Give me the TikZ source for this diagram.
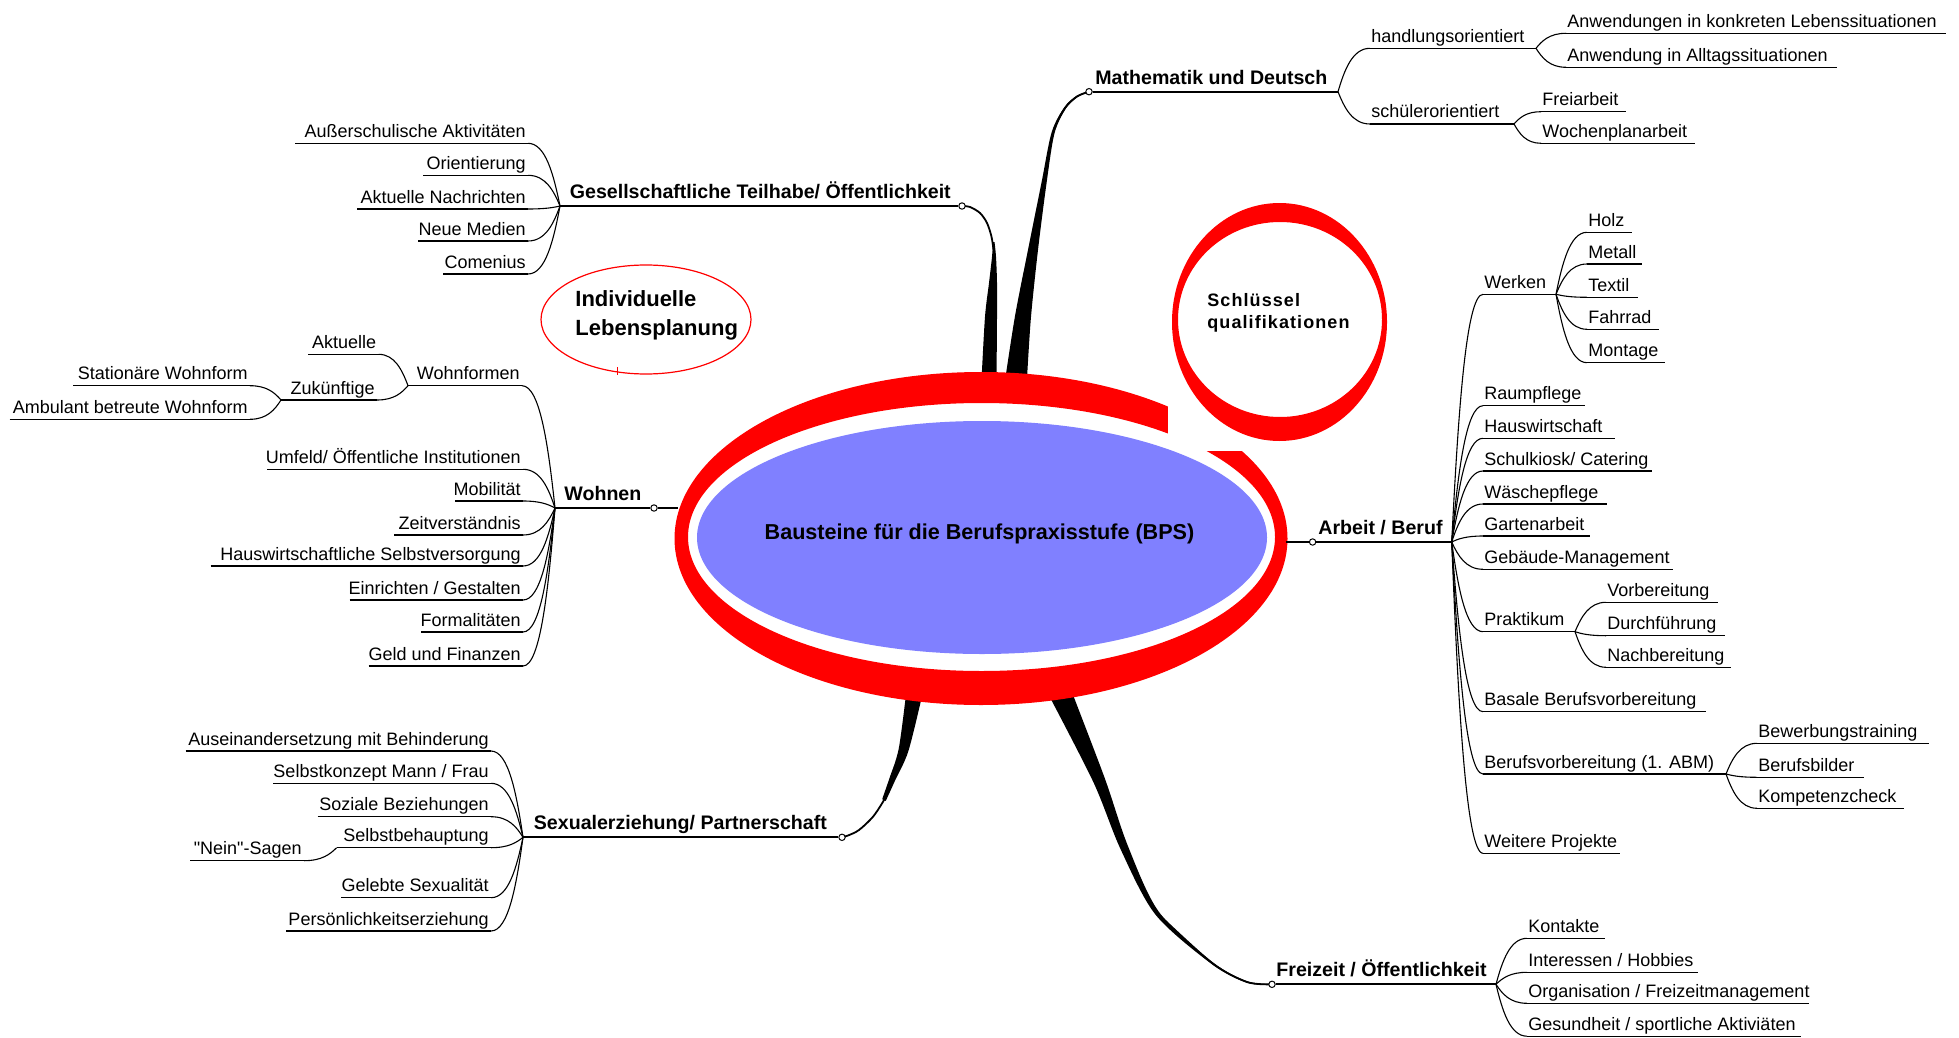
\documentclass[tikz,border=0pt]{standalone}
\usepackage{fontspec}
\setmainfont{Liberation Sans}
\newfontfamily\qualfont[LetterSpace=6]{Liberation Sans}
\newfontfamily\plainq{Liberation Sans}
\usetikzlibrary{calc}
\definecolor{bpsblue}{RGB}{128,128,255}
\definecolor{bpsred}{RGB}{255,0,0}
\tikzset{
  leaf/.style={font=\fontsize{9}{10}\selectfont, inner sep=0pt},
  topic/.style={font=\bfseries\fontsize{9.8}{11}\selectfont, inner sep=0pt},
  ul/.style={line width=0.55pt},
  tul/.style={line width=0.9pt},
  mm/.style={to path={let \p1=(\tikztostart), \p2=(\tikztotarget) in .. controls ({\x1+0.2*(\x2-\x1)},{\y1+0.5*(\y2-\y1)}) and ({\x1+0.45*(\x2-\x1)},\y2) .. (\tikztotarget)}},
  conn/.style={line width=0.55pt, mm},
  knob/.style={circle, draw, fill=white, inner sep=0pt, minimum size=3.2pt, line width=0.5pt},
  thin/.style={line width=0.9pt},
}
\newcommand\Rleaf[5]{%
  \coordinate (#1-a) at (#2,#4);
  \coordinate (#1-b) at (#3,#4);
  \draw[ul] (#1-a) -- (#1-b);
  \node[leaf, anchor=base west] (#1) at ($(#1-a)+(1,-6)$) {#5};
}
\newcommand\Lleaf[5]{%
  \coordinate (#1-a) at (#2,#4);
  \coordinate (#1-b) at (#3,#4);
  \draw[ul] (#1-a) -- (#1-b);
  \node[leaf, anchor=base east] (#1) at ($(#1-b)+(-2,-6)$) {#5};
}
\begin{document}
\begin{tikzpicture}[x=0.5pt,y=-0.5pt]
\useasboundingbox (0,0) rectangle (1959,1038);
\fill[white] (0,0) rectangle (1959,1038);

% ---------- thick tapered branches ----------
% Gesellschaftliche
\fill plot[smooth] coordinates {(981.5,380) (985,316.7) (989,283) (992,256.7) (993,242)} -- plot[smooth] coordinates {(994.5,242) (996,256.7) (997,283) (997,316.7) (996.5,380)} -- cycle;
\draw[thin] plot[smooth] coordinates {(993.5,250) (991.5,236.7) (987,223) (980,213) (970,207) (962,206)};
% Mathematik
\fill plot[smooth] coordinates {(1005.1,380) (1015.1,315.5) (1028.1,249.3) (1041.5,182.6) (1051.6,132.4) (1064.3,107.3) (1076.7,95.8) (1088,91.5)} -- plot[smooth] coordinates {(1088,92.5) (1077.3,97.2) (1065.7,108.7) (1054.4,133.6) (1046.5,183.4) (1037.9,250.7) (1030.9,317.9) (1026.9,380)} -- cycle;
\draw[thin] plot[smooth] coordinates {(1044,183) (1053,133) (1065,108) (1077,96.5) (1088,92)};
% Sexualerziehung
\fill plot[smooth] coordinates {(906.1,693.5) (898.7,748.8) (889.2,778.9) (882.2,799.1)} -- plot[smooth] coordinates {(885.8,800.9) (894.8,781.1) (908.3,751.3) (921.9,696.5)} -- cycle;
\draw[thin] plot[smooth] coordinates {(888,790) (884,800) (873,816.7) (859,830) (848,835.5) (842,837.3)};
% Freizeit
\fill plot[smooth] coordinates {(1047.5,692.7) (1093.4,782.2) (1120.4,848.8) (1155.3,914.4) (1211.4,963.8) (1246.8,982.7) (1272,984.8)} -- plot[smooth] coordinates {(1272,983.8) (1247.2,981.3) (1212.6,962.2) (1158.7,911.6) (1127.6,845.2) (1104.6,777.8) (1068.5,683.3)} -- cycle;
\draw[thin] plot[smooth] coordinates {(1157,913) (1212,963) (1247,982) (1272,984.3)};

% ---------- central ellipse ----------
\fill[bpsred, even odd rule] (981,538.5) ellipse [x radius=306.5, y radius=166.5] (981.5,537) ellipse [x radius=293.5, y radius=134];
\fill[white] (1168,360) rectangle (1300,451);
\fill[bpsblue] (982,537.5) ellipse [x radius=285, y radius=116.5];
\node[font=\bfseries\fontsize{10.8}{12}\selectfont, anchor=base, inner sep=0pt] (bps) at (979.5,539) {Bausteine für die Berufspraxisstufe (BPS)};

% ---------- Schluesselqualifikationen ----------
\fill[bpsred, even odd rule] (1279.5,322) ellipse [x radius=107.5, y radius=119] (1280,319.5) ellipse [x radius=102, y radius=97.5];
\node[font=\qualfont\bfseries\fontsize{9}{10}\selectfont, anchor=base west, inner sep=0pt] (sq1) at (1207,306.7) {Schlüssel};
\node[font=\qualfont\bfseries\fontsize{9}{10}\selectfont, anchor=base west, inner sep=0pt] (sq2) at (1207,328.3) {qualifikationen};

% ---------- Individuelle Lebensplanung ----------
\draw[bpsred, line width=0.6pt] (646,319.5) ellipse [x radius=105, y radius=54.5];
\draw[bpsred, line width=0.8pt] (617.5,367) -- (617.5,375);
\node[font=\bfseries\fontsize{11}{13}\selectfont, anchor=base west, inner sep=0pt] (il1) at (575,306.7) {Individuelle};
\node[font=\bfseries\fontsize{11}{13}\selectfont, anchor=base west, inner sep=0pt] (il2) at (575,335) {Lebensplanung};

% ---------- main topics ----------
\coordinate (gJ) at (560,206);
\node[knob] (gC) at (962,206) {};
\draw[tul] (gJ) -- (gC);
\node[topic, anchor=base west] (gT) at (569.5,198.5) {Gesellschaftliche Teilhabe/ Öffentlichkeit};

\coordinate (mJ) at (1338,91.7);
\node[knob] (mC) at (1089,91.7) {};
\draw[tul] (mC) -- (mJ);
\node[topic, anchor=base west] (mT) at (1095,84.2) {Mathematik und Deutsch};

\coordinate (wJ) at (555,508);
\coordinate (wR) at (678,508);
\node[knob] (wC) at (654,508) {};
\draw[tul] (wJ) -- (wC);
\draw[tul] (wC) -- (wR);
\node[topic, anchor=base west] (wT) at (564,500.5) {Wohnen};

\coordinate (aJ) at (1451.7,542);
\coordinate (aR) at (1286,542);
\node[knob] (aC) at (1312.6,542) {};
\draw[tul] (aR) -- (aC);
\draw[tul] (aC) -- (aJ);
\node[topic, anchor=base west] (aT) at (1318,534.5) {Arbeit / Beruf};

\coordinate (sJ) at (523,837.3);
\node[knob] (sC) at (842,837.3) {};
\draw[tul] (sJ) -- (sC);
\node[topic, anchor=base west] (sT) at (533.5,829.8) {Sexualerziehung/ Partnerschaft};

\coordinate (fJ) at (1496,984.3);
\node[knob] (fC) at (1272,984.3) {};
\draw[tul] (fC) -- (fJ);
\node[topic, anchor=base west] (fT) at (1276,976.8) {Freizeit / Öffentlichkeit};

% ---------- Gesellschaftliche Teilhabe ----------
\Lleaf{g1}{295}{528}{143.3}{Außerschulische Aktivitäten}
\Lleaf{g2}{423}{528}{175.3}{Orientierung}
\Lleaf{g3}{357}{528}{209}{Aktuelle Nachrichten}
\Lleaf{g4}{418}{528}{241}{Neue Medien}
\Lleaf{g5}{443}{528}{274}{Comenius}
\foreach \c in {g1,g2,g3,g4,g5} \draw[conn] (gJ) to (\c-b);

% ---------- Mathematik und Deutsch ----------
\Rleaf{m1}{1370}{1536}{48.3}{handlungsorientiert}
\Rleaf{m2}{1370}{1514}{124}{schülerorientiert}
\Rleaf{m11}{1566}{1946}{33.3}{Anwendungen in konkreten Lebenssituationen}
\Rleaf{m12}{1566}{1837}{67.3}{Anwendung in Alltagssituationen}
\Rleaf{m21}{1541}{1626}{111.7}{Freiarbeit}
\Rleaf{m22}{1541}{1695}{143.3}{Wochenplanarbeit}
\draw[conn] (mJ) to (m1-a);
\draw[conn] (mJ) to (m2-a);
\draw[conn] (m1-b) to (m11-a);
\draw[conn] (m1-b) to (m12-a);
\draw[conn] (m2-b) to (m21-a);
\draw[conn] (m2-b) to (m22-a);

% ---------- Wohnen ----------
\Lleaf{w0}{408}{522}{385.7}{Wohnformen}
\Lleaf{w01}{308}{378.5}{354.3}{Aktuelle}
\Lleaf{w02}{281}{377}{400}{Zukünftige}
\Lleaf{w021}{73}{250}{385.7}{Stationäre Wohnform}
\Lleaf{w022}{9.6}{250}{419.3}{Ambulant betreute Wohnform}
\Lleaf{w1}{267}{523}{469.3}{Umfeld/ Öffentliche Institutionen}
\Lleaf{w2}{455}{523}{501}{Mobilität}
\Lleaf{w3}{394}{523}{535}{Zeitverständnis}
\Lleaf{w4}{210.5}{523}{566}{Hauswirtschaftliche Selbstversorgung}
\Lleaf{w5}{349.5}{523}{600}{Einrichten / Gestalten}
\Lleaf{w6}{421}{523}{632}{Formalitäten}
\Lleaf{w7}{368.6}{523}{666}{Geld und Finanzen}
\foreach \c in {w0,w1,w2,w3,w4,w5,w6,w7} \draw[conn] (wJ) to (\c-b);
\draw[conn] (w0-a) to (w01-b);
\draw[conn] (w0-a) to (w02-b);
\draw[conn] (w02-a) to (w021-b);
\draw[conn] (w02-a) to (w022-b);

% ---------- Arbeit / Beruf ----------
\Rleaf{a1}{1483}{1556}{294.3}{Werken}
\Rleaf{a2}{1483}{1585}{405.7}{Raumpflege}
\Rleaf{a3}{1483}{1615}{438.3}{Hauswirtschaft}
\Rleaf{a4}{1483}{1652}{471}{Schulkiosk/ Catering}
\Rleaf{a5}{1483}{1607}{504}{Wäschepflege}
\Rleaf{a6}{1483}{1590}{536}{Gartenarbeit}
\Rleaf{a7}{1483}{1673}{569.3}{Gebäude-Management}
\Rleaf{a8}{1483}{1575}{631.7}{Praktikum}
\Rleaf{a9}{1483}{1705.5}{711.7}{Basale Berufsvorbereitung}
\Rleaf{a10}{1483}{1726}{774}{Berufsvorbereitung (1. ABM)}
\Rleaf{a11}{1483}{1620}{853.3}{Weitere Projekte}
\foreach \c in {a1,a2,a3,a4,a5,a6,a7,a8,a9,a10,a11} \draw[conn] (aJ) to (\c-a);
\Rleaf{a1a}{1587}{1632}{232.3}{Holz}
\Rleaf{a1b}{1587}{1642}{264}{Metall}
\Rleaf{a1c}{1587}{1638}{297.3}{Textil}
\Rleaf{a1d}{1587}{1659}{329.3}{Fahrrad}
\Rleaf{a1e}{1587}{1665}{362.7}{Montage}
\foreach \c in {a1a,a1b,a1c,a1d,a1e} \draw[conn] (a1-b) to (\c-a);
\Rleaf{a8a}{1606}{1718.4}{602.3}{Vorbereitung}
\Rleaf{a8b}{1606}{1725}{635.7}{Durchführung}
\Rleaf{a8c}{1606}{1730.5}{667.3}{Nachbereitung}
\foreach \c in {a8a,a8b,a8c} \draw[conn] (a8-b) to (\c-a);
\Rleaf{a10a}{1757}{1928.7}{743.3}{Bewerbungstraining}
\Rleaf{a10b}{1757}{1864.2}{777.3}{Berufsbilder}
\Rleaf{a10c}{1757}{1903.7}{808.3}{Kompetenzcheck}
\foreach \c in {a10a,a10b,a10c} \draw[conn] (a10-b) to (\c-a);

% ---------- Sexualerziehung ----------
\Lleaf{s1}{185.6}{491}{751}{Auseinandersetzung mit Behinderung}
\Lleaf{s2}{273.4}{491}{783.3}{Selbstkonzept Mann / Frau}
\Lleaf{s3}{317.6}{491}{816.7}{Soziale Beziehungen}
\Lleaf{s4}{336.6}{491}{847.7}{Selbstbehauptung}
\Lleaf{s5}{341}{491}{897.7}{Gelebte Sexualität}
\Lleaf{s6}{286}{491}{931}{Persönlichkeitserziehung}
\Lleaf{s41}{190}{304}{860.7}{{\plainq"}Nein{\plainq"}-Sagen}
\foreach \c in {s1,s2,s3,s4,s5,s6} \draw[conn] (sJ) to (\c-b);
\draw[conn] (s4-a) to (s41-b);

% ---------- Freizeit ----------
\Rleaf{f1}{1527}{1605}{938.3}{Kontakte}
\Rleaf{f2}{1527}{1698}{972.3}{Interessen / Hobbies}
\Rleaf{f3}{1527}{1809.4}{1003.3}{Organisation / Freizeitmanagement}
\Rleaf{f4}{1527}{1800.7}{1036.2}{Gesundheit / sportliche Aktiviäten}
\foreach \c in {f1,f2,f3,f4} \draw[conn] (fJ) to (\c-a);
\end{tikzpicture}
\end{document}
